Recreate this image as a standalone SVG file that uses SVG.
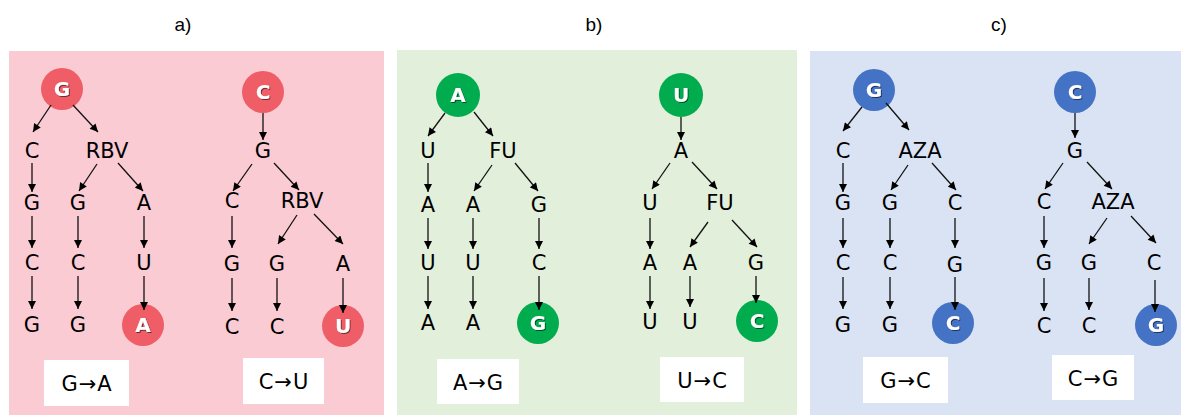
<svg xmlns="http://www.w3.org/2000/svg" width="1183" height="415" viewBox="0 0 1183 415">
<style>
.t{font-family:"DejaVu Sans",sans-serif;font-size:21px;fill:#000;text-anchor:middle}
.ct{font-family:"DejaVu Sans",sans-serif;font-size:20px;font-weight:bold;fill:#fff;text-anchor:middle;filter:url(#sh)}
.lb{font-family:"DejaVu Sans",sans-serif;font-size:21px;letter-spacing:1px;fill:#000;text-anchor:middle}
.tt{font-family:"Liberation Sans",sans-serif;font-size:19px;fill:#000;text-anchor:middle}
.box{fill:#fff}
.ed line{stroke:#111;stroke-width:1.3;marker-end:url(#ah)}
.pk{fill:#EF5D67}.gr{fill:#00AC4E}.bl{fill:#4472C4}
</style>
<defs>
<marker id="ah" viewBox="0 0 10 10" refX="10" refY="5" markerUnits="userSpaceOnUse" markerWidth="9" markerHeight="8" orient="auto">
<path d="M0,0 L10,5 L0,10 z" fill="#000"/>
</marker>
<filter id="sh" x="-50%" y="-50%" width="200%" height="200%">
<feDropShadow dx="1" dy="1" stdDeviation="0.6" flood-color="#000" flood-opacity="0.55"/>
</filter>
</defs>
<rect width="1183" height="415" fill="#fff"/>
<!-- panels -->
<rect x="9" y="51" width="375" height="364" fill="#FACBD3"/>
<rect x="397" y="50" width="400" height="365" fill="#E2EFDA"/>
<rect x="810" y="51" width="371" height="364" fill="#DAE3F3"/>
<text class="tt" x="183" y="31">a)</text>
<text class="tt" x="594" y="31">b)</text>
<text class="tt" x="999" y="31">c)</text>

<!-- panel a tree 1 -->
<g id="a1-root"><circle class="pk" cx="62" cy="89" r="21"/><text class="ct" x="62" y="96">G</text></g>
<g id="a1-c1"><text class="t" x="32" y="158">C</text></g>
<g id="a1-rbv"><text class="t" x="107" y="158">RBV</text></g>
<g id="a1-g2a"><text class="t" x="32" y="210">G</text></g>
<g id="a1-g2b"><text class="t" x="78" y="210">G</text></g>
<g id="a1-a2"><text class="t" x="144" y="210">A</text></g>
<g id="a1-c3a"><text class="t" x="32" y="270">C</text></g>
<g id="a1-c3b"><text class="t" x="78" y="270">C</text></g>
<g id="a1-u3"><text class="t" x="144" y="270">U</text></g>
<g id="a1-g4a"><text class="t" x="32" y="332">G</text></g>
<g id="a1-g4b"><text class="t" x="78" y="332">G</text></g>
<g id="a1-end"><circle class="pk" cx="143" cy="325" r="21"/><text class="ct" x="143" y="332">A</text></g>
<g id="a1-label"><rect class="box" x="44" y="360" width="85" height="46"/><text class="lb" x="87" y="391">G→A</text></g>

<!-- panel a tree 2 -->
<g id="a2-root"><circle class="pk" cx="263" cy="92" r="21"/><text class="ct" x="263" y="99">C</text></g>
<g id="a2-g1"><text class="t" x="263" y="158">G</text></g>
<g id="a2-c2"><text class="t" x="232" y="208">C</text></g>
<g id="a2-rbv"><text class="t" x="302" y="208">RBV</text></g>
<g id="a2-g3a"><text class="t" x="232" y="271">G</text></g>
<g id="a2-g3b"><text class="t" x="277" y="271">G</text></g>
<g id="a2-a3"><text class="t" x="343" y="271">A</text></g>
<g id="a2-c4a"><text class="t" x="232" y="334">C</text></g>
<g id="a2-c4b"><text class="t" x="277" y="334">C</text></g>
<g id="a2-end"><circle class="pk" cx="343" cy="326" r="21"/><text class="ct" x="343" y="333">U</text></g>
<g id="a2-label"><rect class="box" x="243" y="358" width="81" height="46"/><text class="lb" x="284" y="389">C→U</text></g>

<!-- panel b tree 1 -->
<g id="b1-root"><circle class="gr" cx="458" cy="95" r="22"/><text class="ct" x="458" y="102">A</text></g>
<g id="b1-u1"><text class="t" x="428" y="158">U</text></g>
<g id="b1-fu"><text class="t" x="503" y="158">FU</text></g>
<g id="b1-a2a"><text class="t" x="428" y="212">A</text></g>
<g id="b1-a2b"><text class="t" x="473" y="212">A</text></g>
<g id="b1-g2"><text class="t" x="539" y="212">G</text></g>
<g id="b1-u3a"><text class="t" x="428" y="270">U</text></g>
<g id="b1-u3b"><text class="t" x="473" y="270">U</text></g>
<g id="b1-c3"><text class="t" x="539" y="270">C</text></g>
<g id="b1-a4a"><text class="t" x="428" y="330">A</text></g>
<g id="b1-a4b"><text class="t" x="473" y="330">A</text></g>
<g id="b1-end"><circle class="gr" cx="538" cy="323" r="21"/><text class="ct" x="538" y="330">G</text></g>
<g id="b1-label"><rect class="box" x="437" y="359" width="82" height="45"/><text class="lb" x="478.5" y="390">A→G</text></g>

<!-- panel b tree 2 -->
<g id="b2-root"><circle class="gr" cx="681" cy="95" r="22"/><text class="ct" x="681" y="102">U</text></g>
<g id="b2-a1"><text class="t" x="681" y="158">A</text></g>
<g id="b2-u2"><text class="t" x="650" y="210">U</text></g>
<g id="b2-fu"><text class="t" x="720" y="210">FU</text></g>
<g id="b2-a3a"><text class="t" x="650" y="270">A</text></g>
<g id="b2-a3b"><text class="t" x="690" y="270">A</text></g>
<g id="b2-g3"><text class="t" x="756" y="270">G</text></g>
<g id="b2-u4a"><text class="t" x="650" y="329">U</text></g>
<g id="b2-u4b"><text class="t" x="690" y="329">U</text></g>
<g id="b2-end"><circle class="gr" cx="757" cy="321" r="21"/><text class="ct" x="757" y="328">C</text></g>
<g id="b2-label"><rect class="box" x="660" y="357" width="84" height="45"/><text class="lb" x="702.5" y="388">U→C</text></g>

<!-- panel c tree 1 -->
<g id="c1-root"><circle class="bl" cx="874" cy="90" r="21"/><text class="ct" x="874" y="97">G</text></g>
<g id="c1-c1"><text class="t" x="843" y="158">C</text></g>
<g id="c1-aza"><text class="t" x="920" y="158">AZA</text></g>
<g id="c1-g2a"><text class="t" x="843" y="210">G</text></g>
<g id="c1-g2b"><text class="t" x="890" y="210">G</text></g>
<g id="c1-c2"><text class="t" x="955" y="210">C</text></g>
<g id="c1-c3a"><text class="t" x="843" y="270">C</text></g>
<g id="c1-c3b"><text class="t" x="890" y="270">C</text></g>
<g id="c1-g3"><text class="t" x="955" y="272">G</text></g>
<g id="c1-g4a"><text class="t" x="843" y="332">G</text></g>
<g id="c1-g4b"><text class="t" x="890" y="332">G</text></g>
<g id="c1-end"><circle class="bl" cx="953" cy="323" r="21"/><text class="ct" x="953" y="330">C</text></g>
<g id="c1-label"><rect class="box" x="863" y="357" width="85" height="46"/><text class="lb" x="906" y="388">G→C</text></g>

<!-- panel c tree 2 -->
<g id="c2-root"><circle class="bl" cx="1075" cy="92" r="21"/><text class="ct" x="1075" y="99">C</text></g>
<g id="c2-g1"><text class="t" x="1075" y="158">G</text></g>
<g id="c2-c2"><text class="t" x="1044" y="209">C</text></g>
<g id="c2-aza"><text class="t" x="1113" y="209">AZA</text></g>
<g id="c2-g3a"><text class="t" x="1044" y="270">G</text></g>
<g id="c2-g3b"><text class="t" x="1089" y="270">G</text></g>
<g id="c2-c3"><text class="t" x="1154" y="270">C</text></g>
<g id="c2-c4a"><text class="t" x="1044" y="333">C</text></g>
<g id="c2-c4b"><text class="t" x="1089" y="333">C</text></g>
<g id="c2-end"><circle class="bl" cx="1156" cy="325" r="21"/><text class="ct" x="1156" y="332">G</text></g>
<g id="c2-label"><rect class="box" x="1052" y="355" width="82" height="45"/><text class="lb" x="1093.5" y="386">C→G</text></g>

<g id="connectors" class="ed">
<!-- a tree1 -->
<line x1="51" y1="105" x2="33" y2="132"/>
<line x1="73" y1="105" x2="98" y2="132"/>
<line x1="32" y1="163" x2="32" y2="192"/>
<line x1="97" y1="164" x2="79" y2="191"/>
<line x1="118" y1="163" x2="143" y2="191"/>
<line x1="32" y1="216" x2="32" y2="248"/>
<line x1="78" y1="216" x2="78" y2="248"/>
<line x1="144" y1="216" x2="144" y2="248"/>
<line x1="32" y1="276" x2="32" y2="309"/>
<line x1="78" y1="276" x2="78" y2="309"/>
<line x1="144" y1="276" x2="144" y2="310"/>
<!-- a tree2 -->
<line x1="263" y1="113" x2="263" y2="140"/>
<line x1="252" y1="164" x2="233" y2="191"/>
<line x1="274" y1="163" x2="299" y2="190"/>
<line x1="232" y1="216" x2="232" y2="248"/>
<line x1="297" y1="215" x2="278" y2="244"/>
<line x1="314" y1="214" x2="343" y2="244"/>
<line x1="232" y1="278" x2="232" y2="311"/>
<line x1="277" y1="278" x2="277" y2="311"/>
<line x1="343" y1="278" x2="343" y2="313"/>
<!-- b tree1 -->
<line x1="445" y1="113" x2="428" y2="136"/>
<line x1="474" y1="112" x2="493" y2="136"/>
<line x1="428" y1="163" x2="428" y2="192"/>
<line x1="492" y1="165" x2="474" y2="191"/>
<line x1="515" y1="163" x2="538" y2="191"/>
<line x1="428" y1="218" x2="428" y2="249"/>
<line x1="473" y1="218" x2="473" y2="249"/>
<line x1="539" y1="218" x2="539" y2="249"/>
<line x1="428" y1="276" x2="428" y2="309"/>
<line x1="473" y1="276" x2="473" y2="309"/>
<line x1="539" y1="276" x2="539" y2="310"/>
<!-- b tree2 -->
<line x1="681" y1="117" x2="681" y2="140"/>
<line x1="670" y1="163" x2="652" y2="189"/>
<line x1="692" y1="162" x2="717" y2="189"/>
<line x1="650" y1="218" x2="650" y2="249"/>
<line x1="708" y1="222" x2="690" y2="247"/>
<line x1="732" y1="220" x2="757" y2="247"/>
<line x1="650" y1="276" x2="650" y2="309"/>
<line x1="690" y1="276" x2="690" y2="307"/>
<line x1="756" y1="276" x2="756" y2="303"/>
<!-- c tree1 -->
<line x1="862" y1="107" x2="843" y2="131"/>
<line x1="886" y1="103" x2="909" y2="130"/>
<line x1="843" y1="163" x2="843" y2="192"/>
<line x1="908" y1="165" x2="891" y2="190"/>
<line x1="932" y1="163" x2="956" y2="190"/>
<line x1="843" y1="218" x2="843" y2="248"/>
<line x1="890" y1="218" x2="890" y2="248"/>
<line x1="955" y1="218" x2="955" y2="248"/>
<line x1="843" y1="277" x2="843" y2="309"/>
<line x1="890" y1="277" x2="890" y2="309"/>
<line x1="955" y1="277" x2="955" y2="310"/>
<!-- c tree2 -->
<line x1="1075" y1="113" x2="1075" y2="138"/>
<line x1="1063" y1="163" x2="1045" y2="189"/>
<line x1="1087" y1="162" x2="1112" y2="189"/>
<line x1="1044" y1="216" x2="1044" y2="248"/>
<line x1="1107" y1="218" x2="1089" y2="244"/>
<line x1="1131" y1="216" x2="1156" y2="243"/>
<line x1="1044" y1="278" x2="1044" y2="311"/>
<line x1="1089" y1="278" x2="1089" y2="310"/>
<line x1="1155" y1="280" x2="1155" y2="312"/>
</g>
</svg>
